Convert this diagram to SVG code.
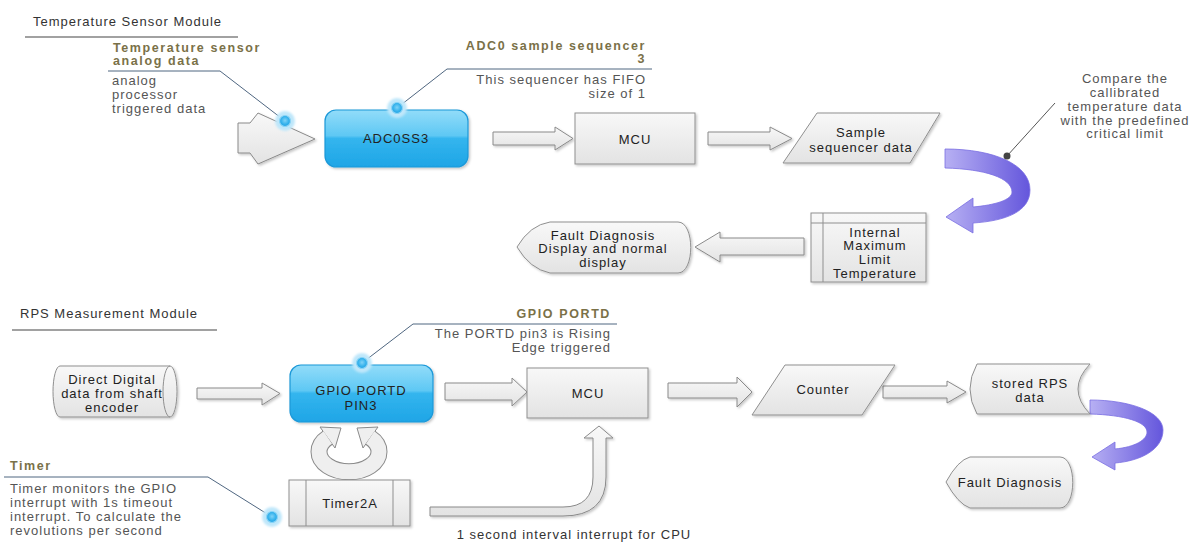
<svg xmlns="http://www.w3.org/2000/svg" width="1196" height="545" viewBox="0 0 1196 545">
  <defs>
    <linearGradient id="gray" x1="0" y1="0" x2="0" y2="1">
      <stop offset="0" stop-color="#f8f8f8"/>
      <stop offset="1" stop-color="#e3e3e3"/>
    </linearGradient>
    <linearGradient id="blue" x1="0" y1="0" x2="0" y2="1">
      <stop offset="0" stop-color="#92dcf9"/>
      <stop offset="0.45" stop-color="#5ec8f4"/>
      <stop offset="0.5" stop-color="#34b5ee"/>
      <stop offset="1" stop-color="#1ea5e6"/>
    </linearGradient>
    <linearGradient id="purple" x1="0" y1="0" x2="1" y2="0">
      <stop offset="0" stop-color="#b7b0f3"/>
      <stop offset="1" stop-color="#6456dc"/>
    </linearGradient>
    <radialGradient id="dot" cx="0.5" cy="0.45" r="0.5">
      <stop offset="0" stop-color="#7fd3f7"/>
      <stop offset="0.7" stop-color="#35b2ec"/>
      <stop offset="1" stop-color="#2aa6e6"/>
    </radialGradient>
    <filter id="shadow" x="-10%" y="-10%" width="125%" height="130%">
      <feDropShadow dx="1.5" dy="1.5" stdDeviation="1.2" flood-color="#000" flood-opacity="0.22"/>
    </filter>
    <filter id="soft" x="-50%" y="-50%" width="200%" height="200%">
      <feGaussianBlur stdDeviation="1"/>
    </filter>
    <style>
      text { font-family: "Liberation Sans", Arial, sans-serif; font-size: 13px; letter-spacing: 1px; fill: #333; }
      .lbl { text-anchor: middle; fill: #222; }
      .note { fill: #555; }
      .head { font-weight: bold; font-size: 12.5px; letter-spacing: 1.6px; fill: #7a7148; }
      .end { text-anchor: end; }
      .mid { text-anchor: middle; }
      .box { fill: url(#gray); stroke: #8f8f8f; stroke-width: 1; filter: url(#shadow); }
      .blk { fill: url(#gray); stroke: #8a8a8a; stroke-width: 1; filter: url(#shadow); }
      .cyan { fill: url(#blue); stroke: #1b98d8; stroke-width: 1.2; filter: url(#shadow); }
      .pur { fill: url(#purple); stroke: #7a6fe2; stroke-width: 0.8; }
      .rule { stroke: #444; stroke-width: 1.2; fill: none; }
      .lead { stroke: #4f6680; stroke-width: 1; fill: none; }
      .inner { stroke: #8f8f8f; stroke-width: 1; fill: none; }
      .halo { fill: #bfe7fa; filter: url(#soft); }
      .core { fill: url(#dot); stroke: #8bd5f6; stroke-width: 1.2; }
    </style>
  </defs>

  <rect width="1196" height="545" fill="#ffffff"/>

  <!-- section headings -->
  <g id="heading-temp">
    <text x="33" y="26">Temperature Sensor Module</text>
    <line class="rule" x1="25" y1="37" x2="238" y2="37"/>
  </g>
  <g id="heading-rps">
    <text x="20" y="318">RPS Measurement Module</text>
    <line class="rule" x1="12" y1="330" x2="217" y2="330"/>
  </g>

  <!-- connectors: block arrows and curved arrows -->
  <g id="connectors">
    <polygon id="in-analog" class="blk" points="238,123 250,123 258,113 315,139 258,164 250,153 238,153"/>
    <polygon class="blk" points="493,132 555,132 555,127 573,138.5 555,150 555,145 493,145"/>
    <polygon class="blk" points="708,132 770,132 770,127 792,138.5 770,150 770,145 708,145"/>
    <polygon class="blk" points="804,238 720,238 720,232 695,247 720,262 720,255 804,255"/>
    <path class="pur" d="M945,149 C995,149 1030,165 1030,190 C1030,212 1005,221 973,223 L973,233 L946,217 L973,198 L973,207 C995,205 1012,200 1012,192 C1012,178 985,169 945,168 Z"/>

    <polygon class="blk" points="197,388 262,388 262,383 280,393.5 262,405 262,399 197,399"/>
    <polygon class="blk" points="445,383 512,383 512,378 527,392 512,406 512,400 445,400"/>
    <polygon class="blk" points="668,383 737,383 737,377 752,392 737,407 737,398 668,398"/>
    <polygon class="blk" points="883,386 947,386 947,381 966,392 947,403 947,398 883,398"/>
    <path class="pur" d="M1090,400 C1130,400 1163,412 1163,430 C1163,450 1140,461 1115,463 L1115,470 L1092,457 L1115,442 L1115,449 C1135,447 1147,440 1147,432 C1147,422 1125,415 1090,414 Z"/>

    <!-- timer interrupt to MCU -->
    <path class="blk" d="M430,507 L563,507 Q593,507 593,477 L593,438 L584,438 L599,426 L613,438 L606,438 L606,477 Q606,516 563,516 L430,516 Z"/>

    <!-- GPIO / timer loop -->
    <g id="loop">
      <path d="M327.8,437.6 A30,20 0 1 0 370.2,437.6" fill="none" stroke="#8a8a8a" stroke-width="17"/>
      <polygon points="335,448 341,428 320,427" fill="#efefef" stroke="#8a8a8a" stroke-width="1"/>
      <polygon points="363,448 357,428 378,427" fill="#efefef" stroke="#8a8a8a" stroke-width="1"/>
      <path d="M327.8,437.6 A30,20 0 1 0 370.2,437.6" fill="none" stroke="#efefef" stroke-width="15"/>
    </g>
  </g>

  <!-- temperature section nodes -->
  <g id="adc0ss3">
    <rect class="cyan" x="325" y="110" width="143" height="57" rx="11"/>
    <text class="lbl" x="396" y="143">ADC0SS3</text>
  </g>
  <g id="mcu-temp">
    <rect class="box" x="575" y="113" width="120" height="51"/>
    <text class="lbl" x="635" y="143.5">MCU</text>
  </g>
  <g id="sample-data">
    <polygon class="box" points="817,113 940,113 910,163 783,163"/>
    <text class="lbl" x="861" y="137">Sample</text>
    <text class="lbl" x="861" y="151.5">sequencer data</text>
  </g>
  <g id="internal-limit">
    <rect class="box" x="811" y="213" width="115" height="69"/>
    <line class="inner" x1="823" y1="213" x2="823" y2="282"/>
    <line class="inner" x1="811" y1="223" x2="926" y2="223"/>
    <text class="lbl" x="875" y="236.5">Internal</text>
    <text class="lbl" x="875" y="250">Maximum</text>
    <text class="lbl" x="875" y="264">Limit</text>
    <text class="lbl" x="875" y="277.5">Temperature</text>
  </g>
  <g id="fault-display">
    <path class="box" d="M517,247 Q530,225 550,222 L678,222 C695,222 695,273 678,273 L550,273 Q530,269 517,247 Z"/>
    <text class="lbl" x="603" y="239.5">Fault Diagnosis</text>
    <text class="lbl" x="603" y="253">Display and normal</text>
    <text class="lbl" x="603" y="267">display</text>
  </g>

  <!-- RPS section nodes -->
  <g id="encoder-data">
    <path class="box" d="M60,366 L170,366 A7,25.5 0 0 1 170,417 L60,417 A7,25.5 0 0 1 60,366 Z"/>
    <path class="inner" d="M170,366 A7,25.5 0 0 0 170,417"/>
    <text class="lbl" x="112" y="383.5">Direct Digital</text>
    <text class="lbl" x="112" y="397.5">data from shaft</text>
    <text class="lbl" x="112" y="411.5">encoder</text>
  </g>
  <g id="gpio-pin3">
    <rect class="cyan" x="290" y="365" width="143" height="57" rx="11"/>
    <text class="lbl" x="361" y="394.5">GPIO PORTD</text>
    <text class="lbl" x="361" y="409.5">PIN3</text>
  </g>
  <g id="mcu-rps">
    <rect class="box" x="527" y="368" width="121" height="50"/>
    <text class="lbl" x="588" y="397.5">MCU</text>
  </g>
  <g id="counter">
    <polygon class="box" points="785,365 895,365 862,415 752,415"/>
    <text class="lbl" x="823" y="393.5">Counter</text>
  </g>
  <g id="stored-rps">
    <path class="box" d="M977,364 L1090,364 Q1066,389 1090,414 L977,414 Q963,389 977,364 Z"/>
    <text class="lbl" x="1030" y="387.5">stored RPS</text>
    <text class="lbl" x="1030" y="401.5">data</text>
  </g>
  <g id="fault-rps">
    <path class="box" d="M946,482 Q958,460 970,457 L1060,457 C1077,457 1077,508 1060,508 L970,508 Q958,504 946,482 Z"/>
    <text class="lbl" x="1010" y="486.5">Fault Diagnosis</text>
  </g>
  <g id="timer2a">
    <rect class="box" x="289" y="480" width="121" height="46"/>
    <line class="inner" x1="306" y1="480" x2="306" y2="526"/>
    <line class="inner" x1="393" y1="480" x2="393" y2="526"/>
    <text class="lbl" x="350" y="507.5">Timer2A</text>
  </g>

  <!-- callouts -->
  <g id="callout-analog">
    <text class="head" x="113" y="52">Temperature sensor</text>
    <text class="head" x="113" y="65">analog data</text>
    <polyline class="lead" points="108,71 220,71 285,121"/>
    <text class="note" x="112" y="85">analog</text>
    <text class="note" x="112" y="99">processor</text>
    <text class="note" x="112" y="112.5">triggered data</text>
    <circle class="halo" cx="285" cy="121" r="10"/>
    <circle class="core" cx="285" cy="121" r="5.5"/>
  </g>
  <g id="callout-sequencer">
    <text class="head end" x="646" y="50">ADC0 sample sequencer</text>
    <text class="head end" x="646" y="63">3</text>
    <polyline class="lead" points="652,69 447,69 397,108"/>
    <text class="note end" x="646" y="84">This sequencer has FIFO</text>
    <text class="note end" x="646" y="97.5">size of 1</text>
    <circle class="halo" cx="397" cy="108" r="10"/>
    <circle class="core" cx="397" cy="108" r="5.5"/>
  </g>
  <g id="callout-compare">
    <line x1="1007" y1="156" x2="1055" y2="103" stroke="#555" stroke-width="1"/>
    <circle cx="1007" cy="156" r="3.5" fill="#444"/>
    <text class="note mid" x="1125" y="82.5">Compare the</text>
    <text class="note mid" x="1125" y="97">callibrated</text>
    <text class="note mid" x="1125" y="111">temperature data</text>
    <text class="note mid" x="1125" y="124.5">with the predefined</text>
    <text class="note mid" x="1125" y="138">critical limit</text>
  </g>
  <g id="callout-gpio">
    <text class="head end" x="611" y="318">GPIO PORTD</text>
    <polyline class="lead" points="617,324 413,324 362,363"/>
    <text class="note end" x="611" y="337.5">The PORTD pin3 is Rising</text>
    <text class="note end" x="611" y="352">Edge triggered</text>
    <circle class="halo" cx="362" cy="363" r="10"/>
    <circle class="core" cx="362" cy="363" r="5.5"/>
  </g>
  <g id="callout-timer">
    <text class="head" x="10" y="470">Timer</text>
    <polyline class="lead" points="4,477 208,477 272,517"/>
    <text class="note" x="10" y="493">Timer monitors the GPIO</text>
    <text class="note" x="10" y="507">interrupt with 1s timeout</text>
    <text class="note" x="10" y="521">interrupt. To calculate the</text>
    <text class="note" x="10" y="534.5">revolutions per second</text>
    <circle class="halo" cx="272" cy="517" r="10"/>
    <circle class="core" cx="272" cy="517" r="5.5"/>
  </g>
  <g id="label-interval">
    <text class="mid" x="574" y="538.5">1 second interval interrupt for CPU</text>
  </g>
</svg>
